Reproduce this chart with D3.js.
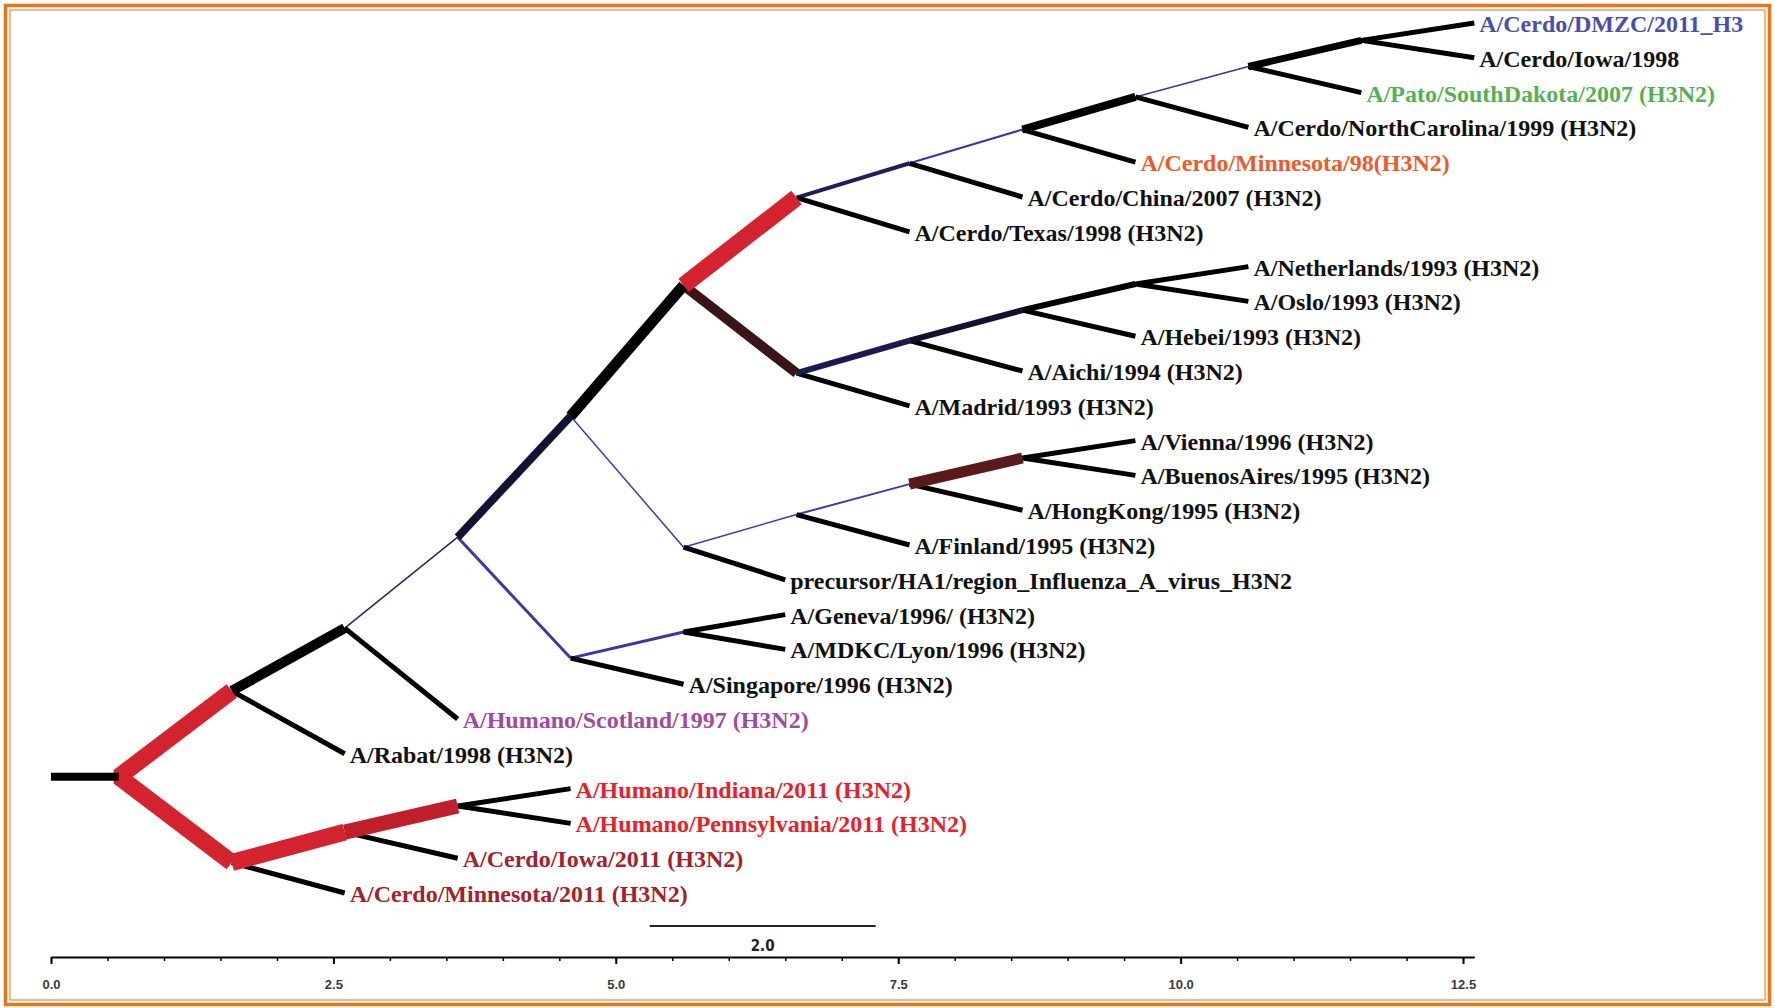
<!DOCTYPE html>
<html>
<head>
<meta charset="utf-8">
<script src="https://cdn.jsdelivr.net/npm/d3@7"></script>
<style>
  html, body { margin: 0; padding: 0; background: #fff; }
  svg { display: block; }
</style>
</head>
<body>
<svg id="chart" width="1775" height="1008"></svg>
<script>
// ---- Tree data -------------------------------------------------------------
// Internal clades: id, parent clade, branch length (substitution units)
const cladeIds     = ["root", "c1", "c2", "c3", "c4", "c5", "c6", "c7", "c8", "c9", "c10", "c11",
                      "c12", "c13", "c14", "c15", "c16", "c17", "c18", "c19", "c20", "c21",
                      "c22", "c23", "c24"];
const cladeParents = ["", "root", "c1", "c2", "c3", "c4", "c5", "c6", "c7", "c8", "c9", "c10",
                      "c5", "c12", "c13", "c14", "c4", "c16", "c17", "c18", "c3", "c20",
                      "root", "c22", "c23"];
const cladeLengths = [0.6, 1, 1, 1, 1, 1, 1, 1, 1, 1, 1, 1,
                      1, 1, 1, 1, 1, 1, 1, 1, 1, 1,
                      1, 1, 1];

// Terminal taxa, listed from top to bottom
const taxa = [
  "A/Cerdo/DMZC/2011_H3",
  "A/Cerdo/Iowa/1998",
  "A/Pato/SouthDakota/2007 (H3N2)",
  "A/Cerdo/NorthCarolina/1999 (H3N2)",
  "A/Cerdo/Minnesota/98(H3N2)",
  "A/Cerdo/China/2007 (H3N2)",
  "A/Cerdo/Texas/1998 (H3N2)",
  "A/Netherlands/1993 (H3N2)",
  "A/Oslo/1993 (H3N2)",
  "A/Hebei/1993 (H3N2)",
  "A/Aichi/1994 (H3N2)",
  "A/Madrid/1993 (H3N2)",
  "A/Vienna/1996 (H3N2)",
  "A/BuenosAires/1995 (H3N2)",
  "A/HongKong/1995 (H3N2)",
  "A/Finland/1995 (H3N2)",
  "precursor/HA1/region_Influenza_A_virus_H3N2",
  "A/Geneva/1996/ (H3N2)",
  "A/MDKC/Lyon/1996 (H3N2)",
  "A/Singapore/1996 (H3N2)",
  "A/Humano/Scotland/1997 (H3N2)",
  "A/Rabat/1998 (H3N2)",
  "A/Humano/Indiana/2011 (H3N2)",
  "A/Humano/Pennsylvania/2011 (H3N2)",
  "A/Cerdo/Iowa/2011 (H3N2)",
  "A/Cerdo/Minnesota/2011 (H3N2)"
];
const taxaParents = ["c11", "c11", "c10", "c9", "c8", "c7", "c6", "c15", "c15", "c14", "c13", "c12",
                     "c19", "c19", "c18", "c17", "c16", "c21", "c21", "c20", "c2", "c1",
                     "c24", "c24", "c23", "c22"];
const taxaLengths = [1, 1, 1, 1, 1, 1, 1, 1, 1, 1, 1, 1, 1, 1, 1, 1, 0.9, 0.9, 0.9, 1, 1, 1, 1, 1, 1, 1];

// Axis ticks and scale bar
const axisMax      = 12.6;
const majorTicks   = [0, 2.5, 5, 7.5, 10, 12.5];
const minorTicks   = [0, 0.5, 1, 1.5, 2, 2.5, 3, 3.5, 4, 4.5, 5, 5.5, 6, 6.5, 7, 7.5, 8, 8.5,
                      9, 9.5, 10, 10.5, 11, 11.5, 12, 12.5];
const scaleBarFrom = 5.3;
const scaleBarLen  = 2.0;

// ---- Styles -------------------------------------------------------------------
const RED = "#d3232f";
const branchStyle = {       // [colour, width] of the branch leading to each clade
  root: ["#000000", 8],
  c1:  [RED, 17],       c22: [RED, 17],
  c2:  ["#000000", 10], c3:  ["#26265e", 1.5],
  c4:  ["#121232", 8],  c20: ["#3a3aa4", 3],
  c5:  ["#000000", 11], c16: ["#3c3cb0", 1.5],
  c6:  [RED, 17],       c12: ["#3a1416", 10],
  c7:  ["#1e1e5e", 4],  c8:  ["#3636a4", 2],
  c9:  ["#000000", 8],  c10: ["#3636a4", 1.5],
  c11: ["#000000", 7],
  c13: ["#1a1a52", 6],  c14: ["#111130", 6], c15: ["#000000", 6],
  c17: ["#3c3cb0", 1.5], c18: ["#3c3cb0", 2], c19: ["#5a1a1c", 11],
  c21: ["#3636a4", 3],
  c23: [RED, 17],       c24: ["#c0202c", 15]
};
const leafBranch = ["#000000", 5];
const labelColor = {
  "A/Cerdo/DMZC/2011_H3": "#4b4fa8",
  "A/Pato/SouthDakota/2007 (H3N2)": "#55b055",
  "A/Cerdo/Minnesota/98(H3N2)": "#ef5a2a",
  "A/Humano/Scotland/1997 (H3N2)": "#a04aa0",
  "A/Humano/Indiana/2011 (H3N2)": "#e8202a",
  "A/Humano/Pennsylvania/2011 (H3N2)": "#e8202a",
  "A/Cerdo/Iowa/2011 (H3N2)": "#a3222b",
  "A/Cerdo/Minnesota/2011 (H3N2)": "#a3222b"
};

// ---- Layout -------------------------------------------------------------------
const rows = cladeIds.map((id, i) => ({ id, parent: cladeParents[i] || null, len: cladeLengths[i] }))
  .concat(taxa.map((id, i) => ({ id, parent: taxaParents[i], len: taxaLengths[i], leaf: i })));

const tree = d3.stratify().id(d => d.id).parentId(d => d.parent)(rows);
tree.eachBefore(n => { n.dist = (n.parent ? n.parent.dist : 0) + n.data.len; });
tree.eachAfter(n => { n.row = n.children ? d3.mean(n.children, c => c.row) : n.data.leaf; });

const x = d3.scaleLinear().domain([0, axisMax]).range([51, 51 + axisMax * 112.96]);
const y = d3.scaleLinear().domain([0, taxa.length - 1]).range([23, 893]);

const svg = d3.select("#chart");

// frame
svg.append("rect").attr("x", 5.5).attr("y", 5.5).attr("width", 1764).attr("height", 999)
  .attr("fill", "none").attr("stroke", "#ea7416").attr("stroke-width", 3.5);
svg.append("rect").attr("x", 10).attr("y", 10).attr("width", 1755).attr("height", 990)
  .attr("fill", "none").attr("stroke", "#ef8a36").attr("stroke-width", 1.2);

// ---- Branches -----------------------------------------------------------------
const styleOf = n => n.children ? branchStyle[n.id] : leafBranch;
const segs = [];
tree.each(p => {
  if (!p.children) return;
  const px = x(p.dist), py = y(p.row);
  const [a, b] = p.children;
  const sa = styleOf(a), sb = styleOf(b);
  if (sa[0] === sb[0] && sa[1] === sb[1]) {
    // sister branches of identical style share one joined path
    segs.push({ pts: [[x(a.dist), y(a.row)], [px, py], [x(b.dist), y(b.row)]], style: sa });
  } else {
    p.children.forEach(c => segs.push({ pts: [[px, py], [x(c.dist), y(c.row)]], style: styleOf(c) }));
  }
});
segs.sort((s, t) => s.style[1] - t.style[1]);
// root stub sits on top of the two basal branches
segs.push({ pts: [[x(0), y(tree.row)], [x(tree.dist), y(tree.row)]], style: branchStyle.root });

const line = d3.line();
svg.append("g").attr("class", "branches")
  .selectAll("path").data(segs).join("path")
  .attr("d", s => line(s.pts))
  .attr("fill", "none")
  .attr("stroke", s => s.style[0])
  .attr("stroke-width", s => s.style[1])
  .attr("stroke-linejoin", "bevel")
  .attr("stroke-linecap", "butt");

// ---- Taxon labels ---------------------------------------------------------------
svg.append("g").attr("class", "labels")
  .selectAll("text").data(tree.leaves()).join("text")
  .attr("x", d => x(d.dist) + 5)
  .attr("y", d => y(d.row) + 9)
  .attr("font-family", "'Liberation Serif', 'Times New Roman', serif")
  .attr("font-weight", "bold")
  .attr("font-size", 24)
  .attr("fill", d => labelColor[d.id] || "#111")
  .text(d => d.id);

// ---- Distance axis -----------------------------------------------------------------
const axisY = 957;
const minor = svg.append("g").attr("transform", `translate(0,${axisY})`)
  .call(d3.axisBottom(x).tickValues(minorTicks).tickSize(4).tickFormat("").tickSizeOuter(0));
minor.select(".domain").attr("stroke", "#000").attr("stroke-width", 2);
minor.selectAll(".tick line").attr("stroke", "#000").attr("stroke-width", 1.5);

const major = svg.append("g").attr("transform", `translate(0,${axisY})`)
  .call(d3.axisBottom(x).tickValues(majorTicks).tickSize(7).tickPadding(16)
    .tickFormat(d3.format(".1f")).tickSizeOuter(0));
major.select(".domain").remove();
major.selectAll(".tick line").attr("stroke", "#000").attr("stroke-width", 2);
major.selectAll(".tick text")
  .attr("font-family", "'Liberation Sans', Arial, sans-serif")
  .attr("font-weight", "bold")
  .attr("font-size", 13)
  .attr("fill", "#3a3a3a");

// ---- Scale bar ----------------------------------------------------------------------
svg.append("line")
  .attr("x1", x(scaleBarFrom)).attr("x2", x(scaleBarFrom + scaleBarLen))
  .attr("y1", 926).attr("y2", 926)
  .attr("stroke", "#222").attr("stroke-width", 2);
svg.append("text")
  .attr("x", x(scaleBarFrom + scaleBarLen / 2)).attr("y", 951)
  .attr("text-anchor", "middle")
  .attr("font-family", "'DejaVu Sans Condensed', 'Liberation Sans Narrow', sans-serif")
  .attr("font-stretch", "condensed")
  .attr("font-weight", "bold")
  .attr("font-size", 15)
  .attr("fill", "#222")
  .text(d3.format(".1f")(scaleBarLen));
</script>
</body>
</html>
